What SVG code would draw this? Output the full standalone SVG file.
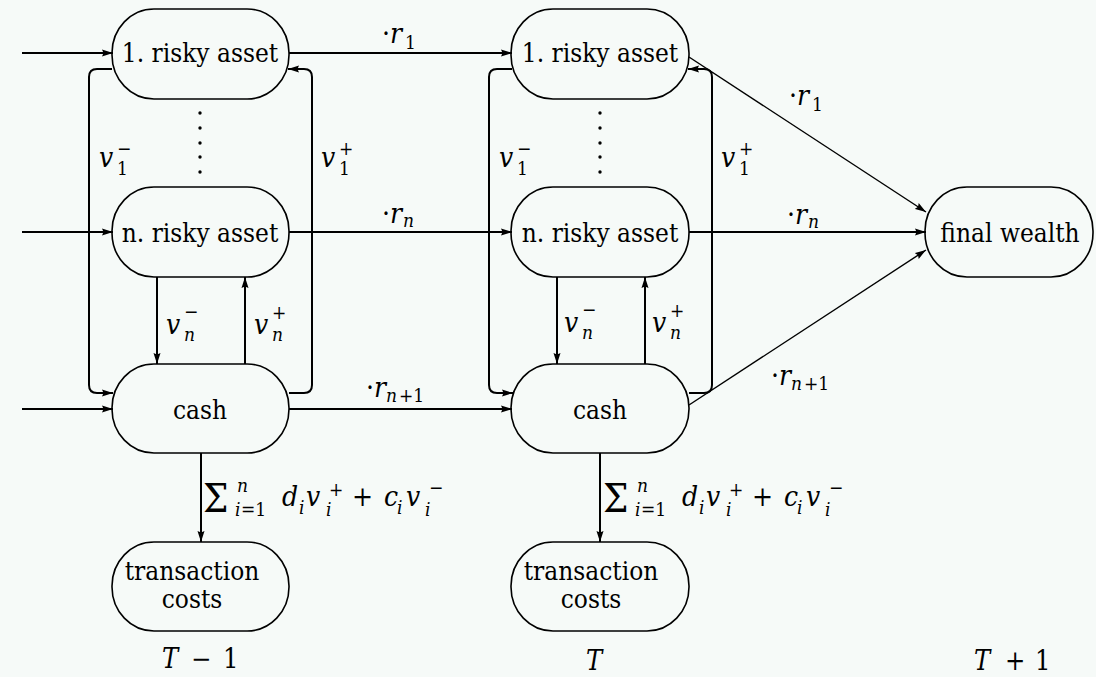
<svg xmlns="http://www.w3.org/2000/svg" width="1096" height="677" viewBox="0 0 1096 677">
<style>
.bg{fill:#f6faf8}
.nd{fill:none;stroke:#000;stroke-width:1.6}
text{fill:#000;font-family:'DejaVu Serif Condensed','DejaVu Serif',serif}
.lbl{font-size:26px;text-anchor:middle}
.mi{font-style:italic;font-size:28px}
.mr{font-size:28px}
.si{font-style:italic;font-size:19px}
.sr{font-size:19px}
.sg{font-size:40px}
.tl{font-size:27px}
.e{stroke:#000;stroke-width:2;fill:none;marker-end:url(#ah)}
.dg{stroke:#000;stroke-width:1.4;fill:none;marker-end:url(#ah)}
.dot{fill:#000}
</style>
<defs>
<marker id="ah" markerWidth="12" markerHeight="8" refX="11" refY="4" orient="auto" markerUnits="userSpaceOnUse">
<path d="M0,0.5 L11,4 L0,7.5 L1.5,4 z" fill="#000"/>
</marker>
</defs>
<rect class="bg" x="0" y="0" width="1096" height="677"/>

<g id="connectors">
<path class="e" d="M22,53 L113,53"/>
<path class="e" d="M22,232 L113,232"/>
<path class="e" d="M22,409 L113,409"/>
<path class="e" d="M112,69 L97,69 Q89,69 89,77 L89,385 Q89,393 97,393 L113,393"/>
<path class="e" d="M289,393 L304,393 Q312,393 312,385 L312,77 Q312,69 304,69 L288,69"/>
<path class="e" d="M157,277 L157,364"/>
<path class="e" d="M245,364 L245,277"/>
<path class="e" d="M201,453 L201,542"/>
<path class="e" d="M289,53 L512,53"/>
<path class="e" d="M289,232 L512,232"/>
<path class="e" d="M289,409 L512,409"/>
<path class="e" d="M512,69 L497,69 Q489,69 489,77 L489,385 Q489,393 497,393 L513,393"/>
<path class="e" d="M689,393 L704,393 Q712,393 712,385 L712,77 Q712,69 704,69 L688,69"/>
<path class="e" d="M557,277 L557,364"/>
<path class="e" d="M645,364 L645,277"/>
<path class="e" d="M600,453 L600,542"/>
<path class="dg" d="M689,57 L926,212"/>
<path class="e" d="M689,232 L926,232"/>
<path class="dg" d="M689,405 L926,250"/>
</g>

<g id="labels">
<circle class="dot" cx="200" cy="113" r="1.7"/><circle class="dot" cx="200" cy="128" r="1.7"/><circle class="dot" cx="200" cy="143" r="1.7"/><circle class="dot" cx="200" cy="157" r="1.7"/><circle class="dot" cx="200" cy="172" r="1.7"/>
<circle class="dot" cx="600" cy="113" r="1.7"/><circle class="dot" cx="600" cy="128" r="1.7"/><circle class="dot" cx="600" cy="143" r="1.7"/><circle class="dot" cx="600" cy="157" r="1.7"/><circle class="dot" cx="600" cy="172" r="1.7"/>

<text class="mi" x="99" y="167">v</text><text class="sr" x="117" y="175">1</text><text class="sr" x="117" y="155">−</text>
<text class="mi" x="321" y="167">v</text><text class="sr" x="339" y="175">1</text><text class="sr" x="339" y="155">+</text>
<text class="mi" x="166" y="334">v</text><text class="si" x="184" y="341">n</text><text class="sr" x="184" y="318">−</text>
<text class="mi" x="254" y="334">v</text><text class="si" x="272" y="341">n</text><text class="sr" x="272" y="319">+</text>
<text class="mi" x="499" y="167">v</text><text class="sr" x="517" y="175">1</text><text class="sr" x="517" y="155">−</text>
<text class="mi" x="721" y="167">v</text><text class="sr" x="739" y="175">1</text><text class="sr" x="739" y="155">+</text>
<text class="mi" x="564" y="332">v</text><text class="si" x="582" y="339">n</text><text class="sr" x="582" y="316">−</text>
<text class="mi" x="652" y="332">v</text><text class="si" x="670" y="339">n</text><text class="sr" x="670" y="317">+</text>

<text class="mr" x="382" y="43">·</text><text class="mi" x="390" y="43">r</text><text class="sr" x="405" y="49">1</text>
<text class="mr" x="382" y="223">·</text><text class="mi" x="390" y="223">r</text><text class="si" x="403" y="227">n</text>
<text class="mr" x="366" y="397">·</text><text class="mi" x="374" y="397">r</text><text class="si" x="386" y="402">n</text><text class="sr" x="399" y="402">+1</text>
<text class="mr" x="789" y="105">·</text><text class="mi" x="797" y="105">r</text><text class="sr" x="812" y="111">1</text>
<text class="mr" x="787" y="224">·</text><text class="mi" x="795" y="224">r</text><text class="si" x="808" y="228">n</text>
<text class="mr" x="771" y="385">·</text><text class="mi" x="779" y="385">r</text><text class="si" x="791" y="390">n</text><text class="sr" x="804" y="390">+1</text>

<g id="sum1">
<text class="sg" x="203" y="512">Σ</text>
<text class="si" x="237" y="492">n</text>
<text class="si" x="235" y="516">i</text><text class="sr" x="241" y="516">=1</text>
<text class="mi" x="282" y="506">d</text><text class="si" x="299" y="514">i</text>
<text class="mi" x="306" y="506">v</text><text class="sr" x="329" y="496">+</text><text class="si" x="326" y="516">i</text>
<text class="mr" x="352" y="506">+</text>
<text class="mi" x="384" y="506">c</text><text class="si" x="397" y="514">i</text>
<text class="mi" x="406" y="506">v</text><text class="sr" x="429" y="494">−</text><text class="si" x="425" y="516">i</text>
</g>
<g id="sum2">
<text class="sg" x="603" y="512">Σ</text>
<text class="si" x="637" y="492">n</text>
<text class="si" x="635" y="516">i</text><text class="sr" x="641" y="516">=1</text>
<text class="mi" x="682" y="506">d</text><text class="si" x="699" y="514">i</text>
<text class="mi" x="706" y="506">v</text><text class="sr" x="729" y="496">+</text><text class="si" x="726" y="516">i</text>
<text class="mr" x="752" y="506">+</text>
<text class="mi" x="784" y="506">c</text><text class="si" x="797" y="514">i</text>
<text class="mi" x="806" y="506">v</text><text class="sr" x="829" y="494">−</text><text class="si" x="825" y="516">i</text>
</g>

<text class="mi tl" x="162" y="668">T</text><text class="mr tl" x="191" y="668">−</text><text class="mr tl" x="223" y="668">1</text>
<text class="mi tl" x="586" y="670">T</text>
<text class="mi tl" x="974" y="670">T</text><text class="mr tl" x="1005" y="670">+</text><text class="mr tl" x="1035" y="670">1</text>
</g>

<g id="risky1-Tm1"><rect class="nd" x="112" y="9" width="177" height="90" rx="42" ry="44"/><text class="lbl" x="200" y="62">1. risky asset</text></g>
<g id="riskyn-Tm1"><rect class="nd" x="112" y="187" width="177" height="90" rx="42" ry="44"/><text class="lbl" x="200" y="242">n. risky asset</text></g>
<g id="cash-Tm1"><rect class="nd" x="112" y="364" width="177" height="89" rx="42" ry="44"/><text class="lbl" x="200" y="419">cash</text></g>
<g id="tc-Tm1"><rect class="nd" x="112" y="542" width="177" height="89" rx="42" ry="44"/><text class="lbl" x="192" y="580">transaction<tspan x="192" y="608">costs</tspan></text></g>

<g id="risky1-T"><rect class="nd" x="511" y="9" width="178" height="90" rx="42" ry="44"/><text class="lbl" x="600" y="62">1. risky asset</text></g>
<g id="riskyn-T"><rect class="nd" x="511" y="187" width="178" height="90" rx="42" ry="44"/><text class="lbl" x="600" y="242">n. risky asset</text></g>
<g id="cash-T"><rect class="nd" x="511" y="364" width="178" height="89" rx="42" ry="44"/><text class="lbl" x="600" y="419">cash</text></g>
<g id="tc-T"><rect class="nd" x="511" y="542" width="178" height="89" rx="42" ry="44"/><text class="lbl" x="591" y="580">transaction<tspan x="591" y="608">costs</tspan></text></g>

<g id="final"><rect class="nd" x="925" y="187" width="168" height="90" rx="42" ry="44"/><text class="lbl" x="1010" y="242">final wealth</text></g>
</svg>
